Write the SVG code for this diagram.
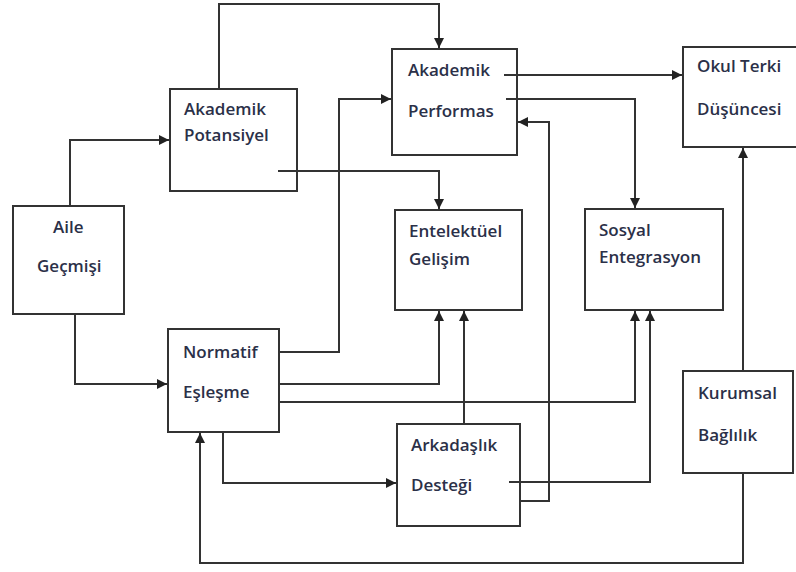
<svg xmlns="http://www.w3.org/2000/svg" width="796" height="572" viewBox="0 0 796 572">
  <defs>
    <marker id="arrow" viewBox="0 0 10 10" refX="10" refY="5" markerWidth="10" markerHeight="10" markerUnits="userSpaceOnUse" orient="auto">
      <path d="M0,0 L10,5 L0,10 z" fill="#222"/>
    </marker>
    <style>
      .box { fill: #fff; stroke: #333; stroke-width: 2; }
      .lbl { font-family: "Open Sans", "Noto Sans", sans-serif; font-size: 17px; font-weight: 600; fill: #2b3048; }
      .conn { fill: none; stroke: #333; stroke-width: 2; }
      .arr { marker-end: url(#arrow); }
    </style>
  </defs>
  <rect width="796" height="572" fill="#fff"/>

  <g id="connectors">
    <!-- Akademik Potansiyel -> Akademik Performas (over the top) -->
    <path class="conn arr" d="M219,89 V4 H439 V48"/>
    <!-- Aile Geçmişi -> Akademik Potansiyel -->
    <path class="conn arr" d="M70,206 V140 H169"/>
    <!-- Aile Geçmişi -> Normatif Eşleşme -->
    <path class="conn arr" d="M75,314 V384 H167"/>
    <!-- Akademik Potansiyel -> Entelektüel Gelişim -->
    <path class="conn arr" d="M278,171 H439 V209"/>
    <!-- Normatif Eşleşme -> Akademik Performas -->
    <path class="conn arr" d="M279,352 H339 V99 H391"/>
    <!-- Normatif Eşleşme -> Entelektüel Gelişim -->
    <path class="conn arr" d="M279,384 H439 V311"/>
    <!-- Normatif Eşleşme -> Sosyal Entegrasyon -->
    <path class="conn arr" d="M279,402 H635 V311"/>
    <!-- Normatif Eşleşme -> Arkadaşlık Desteği -->
    <path class="conn arr" d="M223,432 V483 H396"/>
    <!-- Akademik Performas -> Okul Terki Düşüncesi -->
    <path class="conn arr" d="M504,75 H682"/>
    <!-- Akademik Performas -> Sosyal Entegrasyon -->
    <path class="conn arr" d="M506,99 H635 V208"/>
    <!-- Arkadaşlık Desteği -> Entelektüel Gelişim -->
    <path class="conn arr" d="M464,424 V311"/>
    <!-- Arkadaşlık Desteği -> Sosyal Entegrasyon -->
    <path class="conn arr" d="M509,482 H650 V311"/>
    <!-- Arkadaşlık Desteği -> Akademik Performas -->
    <path class="conn arr" d="M520,501 H549 V122 H518"/>
    <!-- Kurumsal Bağlılık -> Okul Terki Düşüncesi -->
    <path class="conn arr" d="M743,371 V148"/>
    <!-- Kurumsal Bağlılık -> Normatif Eşleşme (along the bottom) -->
    <path class="conn arr" d="M743,473 V563 H200 V433"/>
  </g>

  <g id="aile-gecmisi">
    <rect class="box" x="13" y="206" width="111" height="108"/>
    <text class="lbl" x="53" y="233">Aile</text>
    <text class="lbl" x="37" y="272">Geçmişi</text>
  </g>

  <g id="akademik-potansiyel">
    <rect class="box" x="170" y="89" width="127" height="102"/>
    <text class="lbl" x="184" y="115">Akademik</text>
    <text class="lbl" x="184" y="141">Potansiyel</text>
    <path class="conn" d="M278,171 H297"/>
  </g>

  <g id="akademik-performas">
    <rect class="box" x="392" y="49" width="125" height="106"/>
    <text class="lbl" x="408" y="76">Akademik</text>
    <text class="lbl" x="408" y="117">Performas</text>
    <path class="conn" d="M504,75 H517 M506,99 H517"/>
  </g>

  <g id="okul-terki-dusuncesi">
    <rect class="box" x="683" y="47" width="120" height="100"/>
    <text class="lbl" x="697" y="72">Okul Terki</text>
    <text class="lbl" x="697" y="115">Düşüncesi</text>
  </g>

  <g id="entelektuel-gelisim">
    <rect class="box" x="395" y="210" width="127" height="100"/>
    <text class="lbl" x="409" y="237">Entelektüel</text>
    <text class="lbl" x="409" y="265">Gelişim</text>
  </g>

  <g id="sosyal-entegrasyon">
    <rect class="box" x="585" y="209" width="138" height="101"/>
    <text class="lbl" x="599" y="236">Sosyal</text>
    <text class="lbl" x="599" y="263">Entegrasyon</text>
  </g>

  <g id="normatif-esleme">
    <rect class="box" x="168" y="329" width="111" height="103"/>
    <text class="lbl" x="183" y="358">Normatif</text>
    <text class="lbl" x="183" y="398">Eşleşme</text>
  </g>

  <g id="arkadaslik-destegi">
    <rect class="box" x="397" y="424" width="123" height="102"/>
    <text class="lbl" x="411" y="451">Arkadaşlık</text>
    <text class="lbl" x="411" y="491">Desteği</text>
    <path class="conn" d="M509,482 H520"/>
  </g>

  <g id="kurumsal-baglilik">
    <rect class="box" x="683" y="371" width="110" height="102"/>
    <text class="lbl" x="698" y="399">Kurumsal</text>
    <text class="lbl" x="698" y="441">Bağlılık</text>
  </g>
</svg>
